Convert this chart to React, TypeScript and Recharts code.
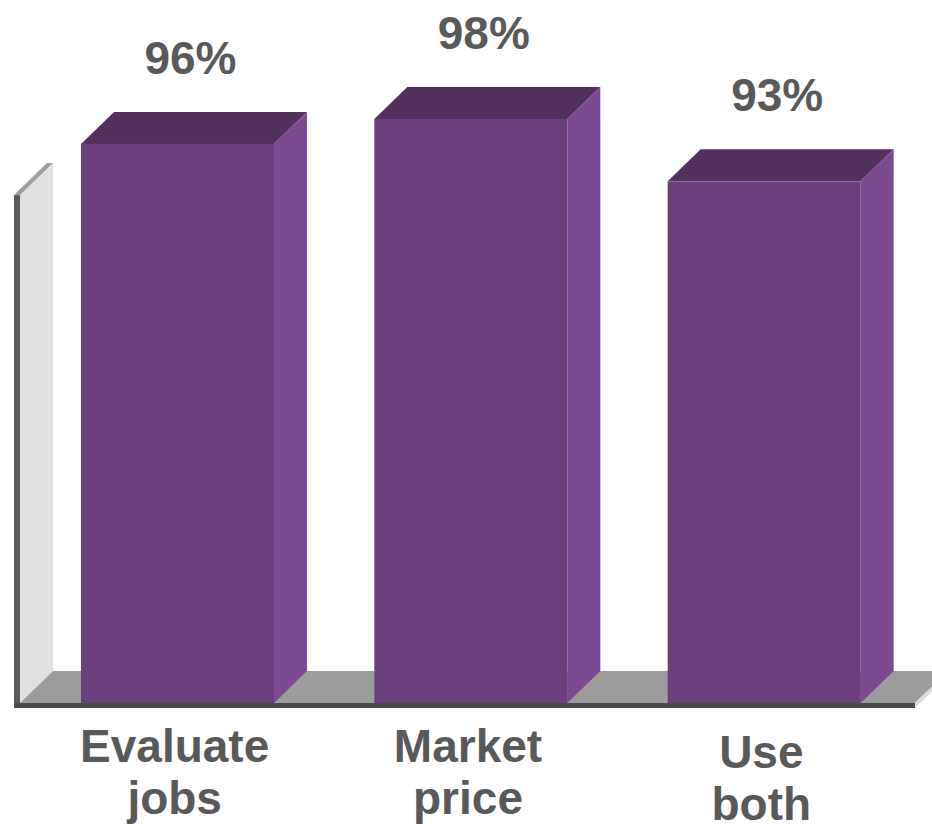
import React from 'react';
import { BarChart, Bar, XAxis, YAxis, ReferenceArea, LabelList } from 'recharts';

const categories = ['Evaluate jobs', 'Market price', 'Use both'];
const categoryLines = [['Evaluate', 'jobs'], ['Market', 'price'], ['Use', 'both']];
const values = [96, 98, 93];
const valueLabels = ['96%', '98%', '93%'];
const axisMin = 51.2;
const axisMax = 100;
const wallTop = 91.9;

const data = categories.map((c, i) => ({ name: c, value: values[i], label: valueLabels[i] }));

const FRONT = '#6B3F7C';
const TOP = '#54305F';
const SIDE = '#7C4A8E';
const TEXT = '#595959';
const FONT = '"Liberation Sans", Arial, sans-serif';
const DX = 33;
const DY = 32;

function Box3D(props: any) {
  const { x, y, width, height } = props;
  const x2 = x + width;
  const yb = y + height;
  return (
    <g>
      <polygon points={`${x},${y} ${x + DX},${y - DY} ${x2 + DX},${y - DY} ${x2},${y}`} fill={TOP} />
      <polygon points={`${x2},${y} ${x2 + DX},${y - DY} ${x2 + DX},${yb - DY} ${x2},${yb}`} fill={SIDE} />
      <rect x={x} y={y} width={width} height={height} fill={FRONT} />
    </g>
  );
}

function Room(props: any) {
  const { x, y, width, height } = props;
  const fy = y + height;
  const L = x - 11;
  const R = x + width + 4;
  return (
    <g>
      <polygon points={`${L},${y} ${L + DX},${y - DY} ${L + DX},${fy - DY} ${L},${fy}`} fill="#E0E0E0" />
      <polygon points={`${L - 6},${y} ${L},${y} ${L + DX},${y - DY} ${L + DX - 6},${y - DY}`} fill="#9E9E9E" />
      <rect x={L - 6} y={y} width={6} height={height + 5} fill="#5A5A5A" />
      <polygon points={`${L},${fy} ${L + DX},${fy - DY} ${R + DX},${fy - DY} ${R},${fy}`} fill="#9C9C9C" />
      <rect x={L - 6} y={fy} width={R - L + 6} height={5} fill="#4B4B4B" />
      <polygon points={`${R},${fy} ${R + DX},${fy - DY} ${R + DX},${fy - DY + 5} ${R},${fy + 5}`} fill="#DCDCDC" />
    </g>
  );
}

function ValueLabel(props: any) {
  const { x, y, width, value } = props;
  return (
    <text x={x + width / 2 + 13} y={y - 70} textAnchor="middle" fontFamily={FONT} fontWeight="bold" fontSize={46} fill={TEXT}>
      {value}
    </text>
  );
}

function CategoryTick(props: any) {
  const { x, y, payload, index } = props;
  const i = typeof index === 'number' ? index : categories.indexOf(payload.value);
  const lines = categoryLines[i] || [String(payload.value)];
  const base = i === 2 ? 65 : 59;
  return (
    <g>
      {lines.map((ln, k) => (
        <text key={k} x={x - 3} y={y + base + k * 52} textAnchor="middle" fontFamily={FONT} fontWeight="bold" fontSize={46} fill={TEXT}>
          {ln}
        </text>
      ))}
    </g>
  );
}

export default function App() {
  return (
    <div style={{ position: 'absolute', left: 0, top: 0, width: 932, height: 831, background: '#fff' }}>
      <BarChart width={932} height={831} data={data} margin={{ top: 94, right: 21, bottom: 8, left: 31 }} barCategoryGap={50}>
        <YAxis hide domain={[axisMin, axisMax]} />
        <XAxis dataKey="name" height={120} axisLine={false} tickLine={false} tickSize={0} tickMargin={0} interval={0} tick={<CategoryTick />} />
        <ReferenceArea y1={axisMin} y2={wallTop} shape={<Room />} ifOverflow="visible" />
        <Bar dataKey="value" shape={<Box3D />} isAnimationActive={false}>
          <LabelList dataKey="label" content={<ValueLabel />} />
        </Bar>
      </BarChart>
    </div>
  );
}
